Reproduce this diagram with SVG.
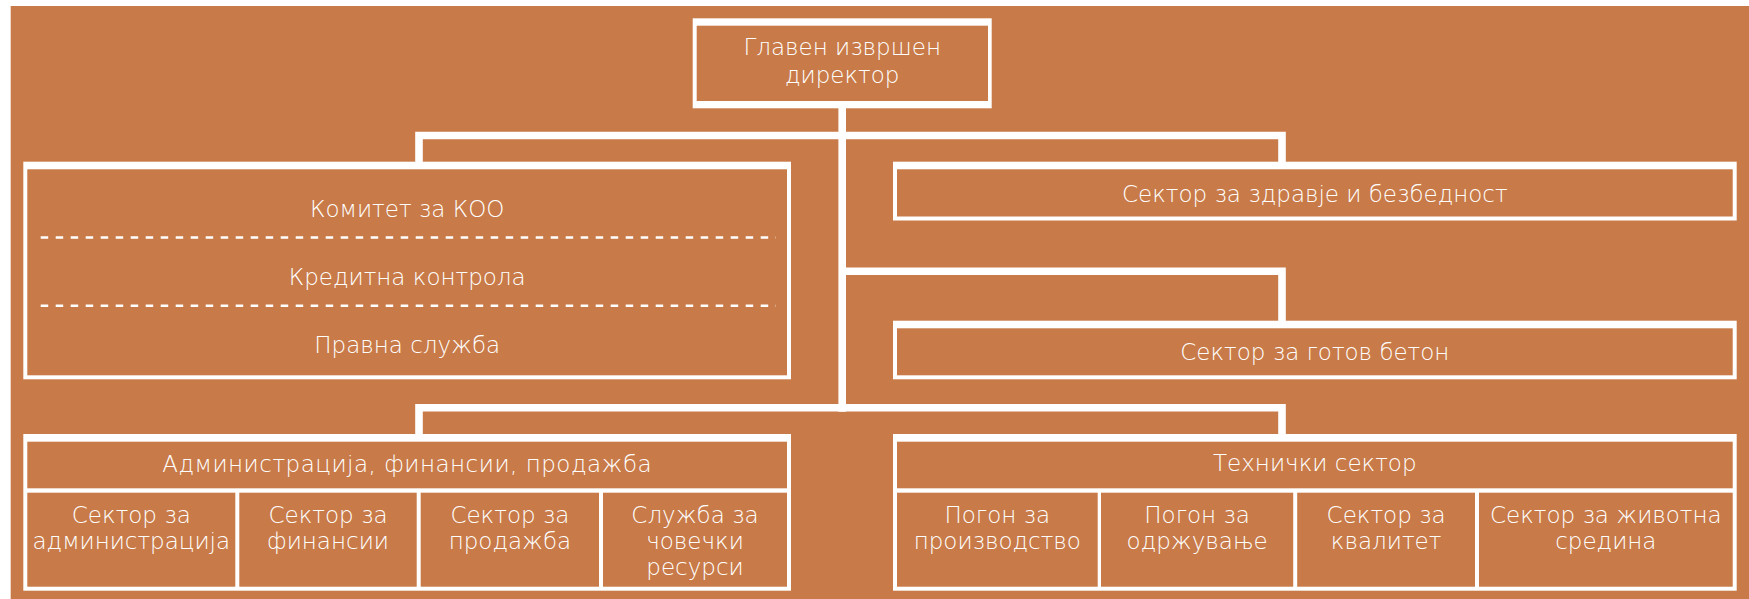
<svg xmlns="http://www.w3.org/2000/svg" width="1749" height="599" viewBox="0 0 1749 599">
<style>
.bg{fill:#C87A48}
.frame{fill:#FFFFFF}
.cell{fill:#C87A48}
.conn{fill:none;stroke:#FFFFFF;stroke-width:7.6;stroke-linejoin:miter;stroke-linecap:butt}
.dash{stroke:#FFFFFF;stroke-width:2.5;stroke-dasharray:7.5 7.5}
text{font-family:"DejaVu Sans","Liberation Sans",sans-serif;font-weight:200;font-size:23px;fill:#FFFFFF;text-anchor:middle}
</style>
<rect x="0" y="0" width="1749" height="599" fill="#FFFFFF"/>
<rect class="bg" x="10.7" y="6" width="1738.3" height="593"/>
<g id="connectors">
<path class="conn" d="M842.2,108 V411.7"/>
<path class="conn" d="M419,162 V135.5 H1282 V162"/>
<path class="conn" d="M842.2,271.2 H1282 V321"/>
<path class="conn" d="M419,434.5 V407.8 H1282 V434.5"/>
</g>
<g id="ceo">
<rect class="frame" x="692.7" y="18.3" width="299" height="90"/>
<rect class="cell" x="696.7" y="25.7" width="291.3" height="75.3"/>
<text x="842.2" y="55">Главен извршен</text>
<text x="842.2" y="82.7">директор</text>
</g>
<g id="koo">
<rect class="frame" x="23.3" y="161.7" width="767.7" height="217.6"/>
<rect class="cell" x="27.3" y="169.3" width="759.7" height="206"/>
<line class="dash" x1="40.7" y1="237.6" x2="776" y2="237.6"/>
<line class="dash" x1="40.7" y1="305.7" x2="776" y2="305.7"/>
<text x="407.2" y="217.3">Комитет за КОО</text>
<text x="407.2" y="285">Кредитна контрола</text>
<text x="407.2" y="353.3">Правна служба</text>
</g>
<g id="health">
<rect class="frame" x="893" y="161.7" width="843.7" height="58.8"/>
<rect class="cell" x="897" y="169.3" width="835.7" height="47.2"/>
<text x="1314.8" y="201.7">Сектор за здравје и безбедност</text>
</g>
<g id="concrete">
<rect class="frame" x="893" y="320.7" width="843.7" height="58.6"/>
<rect class="cell" x="897" y="328.3" width="835.7" height="47"/>
<text x="1314.8" y="360">Сектор за готов бетон</text>
</g>
<g id="admin">
<rect class="frame" x="23.3" y="434" width="767.7" height="156.7"/>
<rect class="cell" x="27.3" y="441.7" width="759.7" height="46.6"/>
<rect class="cell" x="27.3" y="492.7" width="208" height="94"/>
<rect class="cell" x="239.3" y="492.7" width="177.4" height="94"/>
<rect class="cell" x="420.7" y="492.7" width="178.3" height="94"/>
<rect class="cell" x="603" y="492.7" width="184" height="94"/>
<text x="407.2" y="471.7" letter-spacing="0.5">Администрација, финансии, продажба</text>
<text x="131.3" y="523.3">Сектор за</text>
<text x="131.3" y="549.3">администрација</text>
<text x="328" y="523.3">Сектор за</text>
<text x="328" y="549.3">финансии</text>
<text x="509.9" y="523.3">Сектор за</text>
<text x="509.9" y="549.3">продажба</text>
<text x="695" y="523.3">Служба за</text>
<text x="695" y="549.3">човечки</text>
<text x="695" y="575.3">ресурси</text>
</g>
<g id="tech">
<rect class="frame" x="893" y="434" width="843.7" height="156.7"/>
<rect class="cell" x="897" y="441.7" width="835.7" height="46.6"/>
<rect class="cell" x="897" y="492.7" width="200.7" height="94"/>
<rect class="cell" x="1101" y="492.7" width="192.2" height="94"/>
<rect class="cell" x="1297.2" y="492.7" width="177.8" height="94"/>
<rect class="cell" x="1479" y="492.7" width="253.7" height="94"/>
<text x="1314.8" y="470.7">Технички сектор</text>
<text x="997.3" y="523.3">Погон за</text>
<text x="997.3" y="549.3">производство</text>
<text x="1197.1" y="523.3">Погон за</text>
<text x="1197.1" y="549.3">одржување</text>
<text x="1386.1" y="523.3">Сектор за</text>
<text x="1386.1" y="549.3">квалитет</text>
<text x="1605.8" y="523.3">Сектор за животна</text>
<text x="1605.8" y="549.3">средина</text>
</g>
</svg>
